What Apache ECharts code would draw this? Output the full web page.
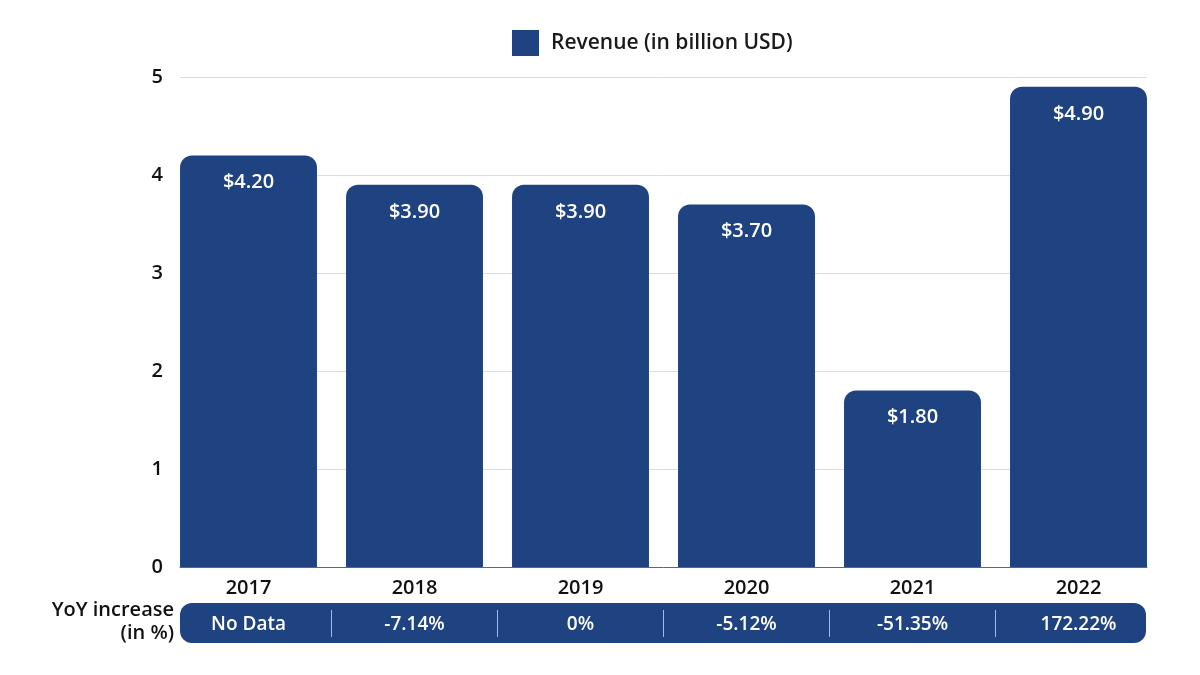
<!DOCTYPE html>
<html>
<head>
<meta charset="utf-8">
<script src="https://cdn.jsdelivr.net/npm/echarts@6/dist/echarts.min.js"></script>
<style>html,body{margin:0;padding:0;background:#fff}#c{width:1200px;height:675px}</style>
</head>
<body>
<div id="c"></div>
<script>
const categories = ['2017', '2018', '2019', '2020', '2021', '2022'];
const revenue = [4.2, 3.9, 3.9, 3.7, 1.8, 4.9];
const yoyLabels = ['No Data', '-7.14%', '0%', '-5.12%', '-51.35%', '172.22%'];
const yTicks = [0, 1, 2, 3, 4, 5];
const seriesName = 'Revenue (in billion USD)';

const BLUE = '#1f4280';
const FONT = '"Open Sans", Lato, sans-serif';

const chart = echarts.init(document.getElementById('c'));
chart.setOption({
  backgroundColor: '#ffffff',
  animation: false,
  textStyle: { fontFamily: FONT },
  legend: {
    left: 512, top: 30, padding: 0,
    itemWidth: 27, itemHeight: 26,
    icon: 'rect',
    textStyle: { fontSize: 21, fontWeight: 600, color: '#1a1a1a', padding: [0, 0, 0, 7], fontFamily: FONT },
    data: [seriesName]
  },
  graphic: [
    {
      type: 'rect', left: 180, top: 603, z: 0,
      shape: { width: 966, height: 40, r: 12 },
      style: { fill: BLUE }
    },
    {
      type: 'rect', left: 1152, top: 600, z: 100,
      shape: { width: 20, height: 46 },
      style: { fill: '#ffffff' }
    },
    {
      type: 'rect', left: 160, top: 612, z: 100,
      shape: { width: 12, height: 34 },
      style: { fill: '#ffffff' }
    },
    {
      type: 'text', x: 174, y: 599, z: 101,
      style: { text: 'YoY increase\n(in %)', align: 'right', verticalAlign: 'top', fill: '#111', font: '600 20px ' + FONT, lineHeight: 23 }
    }
  ],
  grid: [
    { left: 180, right: 53, top: 77, bottom: 108 },
    { left: 165.5, right: 38.5, top: 77, bottom: 108 }
  ],
  xAxis: [
    {
      gridIndex: 0, type: 'category', data: categories,
      axisLine: { show: true, lineStyle: { color: '#666', width: 1 } },
      axisTick: { show: false }, axisLabel: { show: false }
    },
    {
      gridIndex: 1, type: 'category', data: categories,
      axisLine: { show: false }, axisTick: { show: false },
      axisLabel: { fontSize: 20, fontWeight: 600, color: '#111', margin: 11, fontFamily: FONT }
    },
    {
      gridIndex: 1, type: 'category', data: yoyLabels, position: 'bottom', offset: 43,
      axisLine: { show: false },
      axisTick: { show: true, length: 27, lineStyle: { color: '#a9b9d8', width: 1 } },
      axisLabel: { fontSize: 19, fontWeight: 600, color: '#ffffff', margin: 5, fontFamily: FONT }
    }
  ],
  yAxis: [
    {
      gridIndex: 0, type: 'value', min: 0, max: 5, interval: 1,
      axisLine: { show: false }, axisTick: { show: false },
      axisLabel: { fontSize: 20, fontWeight: 600, color: '#111', margin: 17, fontFamily: FONT,
        formatter: v => yTicks.includes(v) ? String(v) : '' },
      splitLine: { lineStyle: { color: '#dcdcdc', width: 1 } }
    },
    {
      gridIndex: 1, type: 'value', min: 0, max: 5, interval: 1, show: false,
      splitLine: { show: false }
    }
  ],
  series: [
    {
      name: seriesName, type: 'bar', xAxisIndex: 1, yAxisIndex: 1,
      data: revenue, barCategoryGap: '17.5%',
      itemStyle: { color: BLUE, borderRadius: [12, 12, 0, 0] },
      label: {
        show: true, position: 'insideTop', distance: 17,
        formatter: p => '$' + p.value.toFixed(2),
        color: '#ffffff', fontSize: 20, fontWeight: 600, fontFamily: FONT
      },
      z: 3
    }
  ]
});
</script>
</body>
</html>
